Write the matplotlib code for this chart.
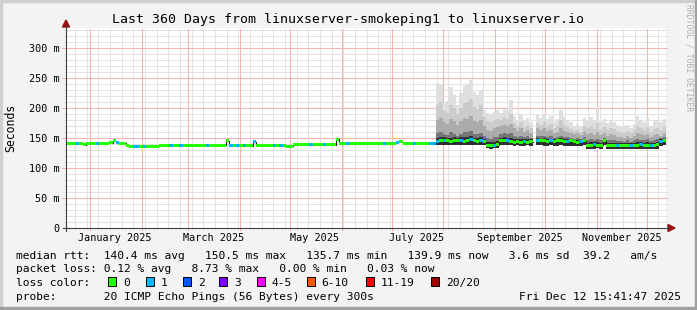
import datetime as dt
import numpy as np
import matplotlib
matplotlib.use('Agg')
import matplotlib.pyplot as plt
import matplotlib.dates as mdates
from matplotlib.lines import Line2D
from matplotlib.patches import Polygon, Rectangle

# *** Figure settings *** #
W, H = 697, 310
mono = 'DejaVu Sans Mono'

# Graph period (360 days, 2-day steps)
start = dt.datetime(2024, 12, 17, 15, 41, 47)
step = 2

# Median rtt per step [ms]
median = [
    141, 141, 141, 141, 141, 139, 141, 141, 141, 140,  # Dec/Jan
    141, 141, 141, 142, 145, 142, 141, 141, 137, 136.5,
    136.5, 136.5, 136.5, 136.5, 136.5, 136.5, 136.5, 136.5, 137, 137,
    137, 137, 137.5, 137.5, 137.5, 137.5, 138, 138, 138, 138,
    138, 138, 138, 138, 138, 138, 138, 138, 145, 137,
    137, 137, 137, 137, 137, 137, 144, 137.5, 137.5, 137.5,
    137.5, 137.5, 137.5, 137.5, 137.5, 137.5, 136.5, 136.5, 139, 139,
    139, 139, 139, 139, 139, 139, 139, 139, 139, 139,
    139, 148, 140, 140, 140, 140, 140, 140, 140, 140,
    140, 140, 140, 140, 140, 140, 140, 140, 141, 143,
    144, 141, 141, 141, 141, 141, 141, 141, 141, 141,
    141, 144, 145, 146, 145, 144, 145, 146, 145, 144,  # smoke from here (k=111)
    146, 147, 145, 144, 145, 144, 138, 138, 138, 139,
    145, 146, 145, 144, 143, 144, 143, 144, 143, 144,
    np.nan, 146, 145, 145, 144, 145, 144, 145, 145, 144,
    144, 145, 144, 143, 144, 145, 138, 138, 139, 138,
    138, 145, 138, 137, 138, 138, 138, 137, 138, 138,
    137, 138, 139, 137, 138, 137, 138, 139, 144, 145,
]

# Lost pings (of 20) per step
loss = [
    0, 0, 0, 1, 0, 0, 0, 0, 0, 1,
    0, 0, 0, 0, 0, 1, 0, 0, 0, 0,
    1, 1, 0, 1, 0, 0, 0, 0, 0, 0,
    0, 1, 0, 0, 1, 0, 0, 0, 0, 0,
    0, 0, 1, 0, 0, 0, 0, 0, 0, 1,
    0, 1, 0, 1, 0, 0, 1, 0, 0, 0,
    0, 0, 1, 0, 1, 0, 0, 0, 0, 0,
    0, 0, 0, 1, 0, 0, 0, 1, 0, 0,
    0, 0, 0, 0, 1, 0, 0, 0, 0, 0,
    0, 0, 0, 0, 0, 1, 0, 0, 0, 1,
    0, 0, 0, 0, 1, 0, 0, 0, 0, 1,
    1, 1, 0, 1, 0, 0, 0, 0, 1, 0,
    0, 1, 0, 0, 1, 0, 0, 0, 1, 0,
    0, 0, 1, 0, 0, 0, 0, 1, 0, 0,
    0, 1, 0, 0, 0, 1, 0, 0, 0, 0,
    1, 0, 0, 0, 1, 0, 0, 0, 1, 0,
    0, 0, 0, 0, 0, 1, 0, 0, 0, 1,
    0, 0, 1, 0, 0, 1, 0, 0, 1, 0,
]

# Smoke (ping spread) from step 111 on [ms]
smoke_first = 111
smoke_lo = [
    138, 139, 139, 138, 138, 139, 139, 138, 138, 139, 138, 138, 139, 138, 138,
    133, 132, 133, 133, 139, 139, 138, 138, 137, 138, 137, 137, 138, 137,
    np.nan,
    138, 138, 137, 137, 138, 137, 137, 138, 137, 137, 137, 136, 137, 137, 138,
    132, 132, 132, 133, 132, 138, 132, 132, 132, 131, 131, 131, 132, 131, 131,
    132, 132, 131, 132, 131, 132, 132, 137, 138,
]
smoke_q0 = [
    150, 151, 152, 150, 150, 151, 150, 151, 151, 152, 153, 150, 150, 151, 149,
    144, 143, 144, 145, 150, 151, 150, 150, 148, 149, 148, 149, 148, 148,
    np.nan,
    150, 149, 150, 148, 149, 148, 149, 150, 148, 148, 149, 147, 147, 147, 149,
    142, 143, 143, 143, 142, 148, 142, 141, 142, 142, 142, 141, 142, 142, 141,
    143, 143, 141, 143, 141, 142, 143, 148, 149,
]
smoke_q1 = [
    158, 160, 156, 155, 160, 157, 154, 157, 160, 160, 162, 157, 156, 158, 154,
    150, 148, 151, 152, 156, 158, 156, 158, 154, 152, 154, 151, 153, 150,
    np.nan,
    154, 153, 154, 152, 153, 150, 151, 154, 152, 151, 150, 149, 150, 148, 151,
    147, 148, 146, 149, 146, 150, 146, 147, 147, 145, 145, 144, 146, 144, 146,
    149, 147, 146, 148, 145, 147, 148, 150, 151,
]
smoke_q2 = [
    180, 184, 176, 174, 182, 178, 172, 178, 184, 182, 186, 178, 176, 180, 170,
    164, 162, 166, 168, 170, 172, 170, 174, 166, 162, 166, 160, 163, 158,
    np.nan,
    166, 164, 166, 162, 164, 158, 160, 166, 162, 160, 158, 156, 158, 155, 160,
    156, 158, 155, 160, 155, 158, 154, 156, 155, 152, 152, 150, 153, 150, 154,
    158, 156, 155, 157, 152, 155, 156, 154, 158,
]
smoke_q3 = [
    205, 210, 195, 192, 205, 200, 190, 200, 208, 210, 215, 202, 198, 205, 185,
    178, 176, 180, 182, 180, 185, 182, 190, 175, 170, 176, 168, 172, 166,
    np.nan,
    175, 172, 176, 170, 174, 166, 170, 180, 172, 168, 165, 162, 164, 160, 170,
    166, 170, 165, 175, 164, 168, 163, 166, 165, 161, 160, 158, 162, 158, 163,
    170, 166, 164, 168, 160, 165, 166, 163, 168,
]
smoke_max = [
    241, 238, 210, 212, 235, 221, 205, 225, 236, 238, 247, 226, 222, 230, 197,
    192, 190, 194, 196, 192, 198, 196, 213, 186, 180, 190, 178, 184, 176,
    np.nan,
    188, 184, 190, 182, 186, 176, 181, 197, 185, 180, 176, 170, 173, 168, 183,
    180, 185, 178, 202, 176, 181, 175, 180, 177, 172, 170, 168, 172, 166, 174,
    187, 180, 176, 183, 170, 178, 180, 176, 181,
]

# Loss classes: (upper limit, label, color)
loss_classes = [(0, '0', '#26ff00'), (1, '1', '#00b8ff'), (2, '2', '#0059ff'),
                (3, '3', '#7e00ff'), (5, '4-5', '#ff00ff'), (10, '6-10', '#ff5500'),
                (19, '11-19', '#ff0000'), (20, '20/20', '#a10000')]


def loss_color(n):
    for lim, lbl, col in loss_classes:
        if n <= lim:
            return col
    return loss_classes[-1][2]


def fx(px):
    return px / W


def fy(py):
    return 1 - py / H


median = np.array(median, dtype=float)
x0 = mdates.date2num(start)
xs = x0 + np.arange(len(median)) * step
xe = x0 + 360

fig = plt.figure(figsize=(W / 100, H / 100), dpi=100)
fig.patch.set_facecolor('#f3f3f3')
ax = fig.add_axes([fx(66), fy(228), fx(600), 200 / H])
ax.set_facecolor('white')
ax.set_xlim(x0, xe)
ax.set_ylim(0, 333.3)
for s in ax.spines.values():
    s.set_visible(False)

# Grid: minor every 10 ms / weekly, major every 50 ms / monthly
minor_col = '#e2e2e2'
major_col = '#f4b2b2'
grid_kw = dict(lw=0.72, ls=(0, (1, 1)), clip_on=False, antialiased=False)
for v in range(10, 331, 10):
    if v % 50:
        ax.axhline(v, xmin=-0.004, xmax=1.0035, color=minor_col, zorder=0, **grid_kw)
for v in range(50, 301, 50):
    ax.axhline(v, xmin=-0.006, xmax=1.0035, color=major_col, zorder=0.5, **grid_kw)

day = dt.datetime(2024, 12, 23)
while day < dt.datetime(2025, 12, 13):
    ax.axvline(mdates.date2num(day), ymin=-0.01, ymax=1, color=minor_col, zorder=0, **grid_kw)
    day += dt.timedelta(days=7)
for m in range(1, 13):
    ax.axvline(mdates.date2num(dt.datetime(2025, m, 1)), ymin=-0.012, ymax=1,
               color=major_col, zorder=0.5, **grid_kw)

# Smoke
sx = xs[smoke_first:]
layers = [(smoke_max, '#dfdfdf'), (smoke_q3, '#cbcbcb'), (smoke_q2, '#ababab'),
          (smoke_q1, '#767676'), (smoke_q0, '#303030')]
lo = np.array(smoke_lo, dtype=float)
for top, col in layers:
    top = np.array(top, dtype=float)
    ok = ~np.isnan(top)
    ax.bar(sx[ok], top[ok] - lo[ok], width=step, bottom=lo[ok], align='edge',
           color=col, linewidth=0, antialiased=False, zorder=1)

# Median line (black) and loss-colored band
ax.step(np.append(xs, xs[-1] + step), np.append(median, median[-1]), where='post',
        color='#202020', lw=0.8, zorder=2)
half = 2.5
ok = ~np.isnan(median)
ax.bar(xs[ok], 2 * half, width=step, bottom=median[ok] - half, align='edge',
       color=[loss_color(n) for n, k in zip(loss, ok) if k],
       linewidth=0, antialiased=False, zorder=3)

# Ticks
yt = list(range(0, 301, 50))
ax.set_yticks(yt, ['0'] + ['%d m' % v for v in yt[1:]])
lab_months = [1, 3, 5, 7, 9, 11]
ax.set_xticks([mdates.date2num(dt.datetime(2025, m, 16)) for m in lab_months],
              [dt.datetime(2025, m, 1).strftime('%B %Y') for m in lab_months])
ax.tick_params(axis='both', length=0, labelsize=7.3, colors='black')
ax.tick_params(axis='y', pad=4.8)
ax.tick_params(axis='x', pad=3.6)
for t in ax.get_xticklabels() + ax.get_yticklabels():
    t.set_fontfamily(mono)

# Axes with arrows
axis_col = '#404040'
arrow_col = '#9a1010'
fig.add_artist(Line2D([fx(66), fx(66)], [fy(231), fy(25)], color=axis_col, lw=0.8))
fig.add_artist(Line2D([fx(63), fx(670)], [fy(228), fy(228)], color=axis_col, lw=0.8))
fig.add_artist(Polygon([[fx(62.5), fy(27)], [fx(69.5), fy(27)], [fx(66), fy(20)]],
                       closed=True, color=arrow_col, transform=fig.transFigure))
fig.add_artist(Polygon([[fx(668), fy(224.5)], [fx(668), fy(231.5)], [fx(675), fy(228)]],
                       closed=True, color=arrow_col, transform=fig.transFigure))

# Texts
fig.text(fx(348), fy(19), 'Last 360 Days from linuxserver-smokeping1 to linuxserver.io',
         ha='center', va='center', fontsize=9.5, family=mono)
fig.text(fx(11), fy(128), 'Seconds', rotation=90, ha='center', va='center',
         fontsize=8.3, family=mono)
fig.text(fx(689), fy(4), 'RRDTOOL / TOBI OETIKER', rotation=270, ha='center', va='top',
         fontsize=5.8, family=mono, color='#b0b0b0')

lines = [
    'median rtt:  140.4 ms avg   150.5 ms max   135.7 ms min   139.9 ms now   3.6 ms sd  39.2   am/s',
    'packet loss: 0.12 % avg   8.73 % max   0.00 % min   0.03 % now',
    'loss color:',
    'probe:       20 ICMP Echo Pings (56 Bytes) every 300s',
]
bases = [259, 272.5, 286, 299.5]
for txt, b in zip(lines, bases):
    fig.text(fx(16), fy(b), txt, ha='left', va='baseline', fontsize=8.1, family=mono)
fig.text(fx(681), fy(299.5), 'Fri Dec 12 15:41:47 2025', ha='right', va='baseline',
         fontsize=8.1, family=mono)

box_x = [108.3, 145.7, 182.7, 219.3, 256.7, 306.7, 365.7, 431]
for bx, (lim, lbl, col) in zip(box_x, loss_classes):
    fig.add_artist(Rectangle((fx(bx), fy(286)), 8 / W, 9 / H, transform=fig.transFigure,
                             facecolor=col, edgecolor='black', lw=0.7))
    fig.text(fx(bx + 15), fy(286), lbl, ha='left', va='baseline', fontsize=8.1, family=mono)

# 3D frame
fig.add_artist(Rectangle((0, fy(2)), 1, 2 / H, transform=fig.transFigure, color='#cfcfcf'))
fig.add_artist(Rectangle((0, 0), 2 / W, 1, transform=fig.transFigure, color='#cfcfcf'))
fig.add_artist(Rectangle((0, 0), 1, 3 / H, transform=fig.transFigure, color='#a0a0a0'))
fig.add_artist(Rectangle((fx(695), 0), 2 / W, 1, transform=fig.transFigure, color='#a0a0a0'))

fig.savefig('out.png', dpi=100, facecolor=fig.get_facecolor())
